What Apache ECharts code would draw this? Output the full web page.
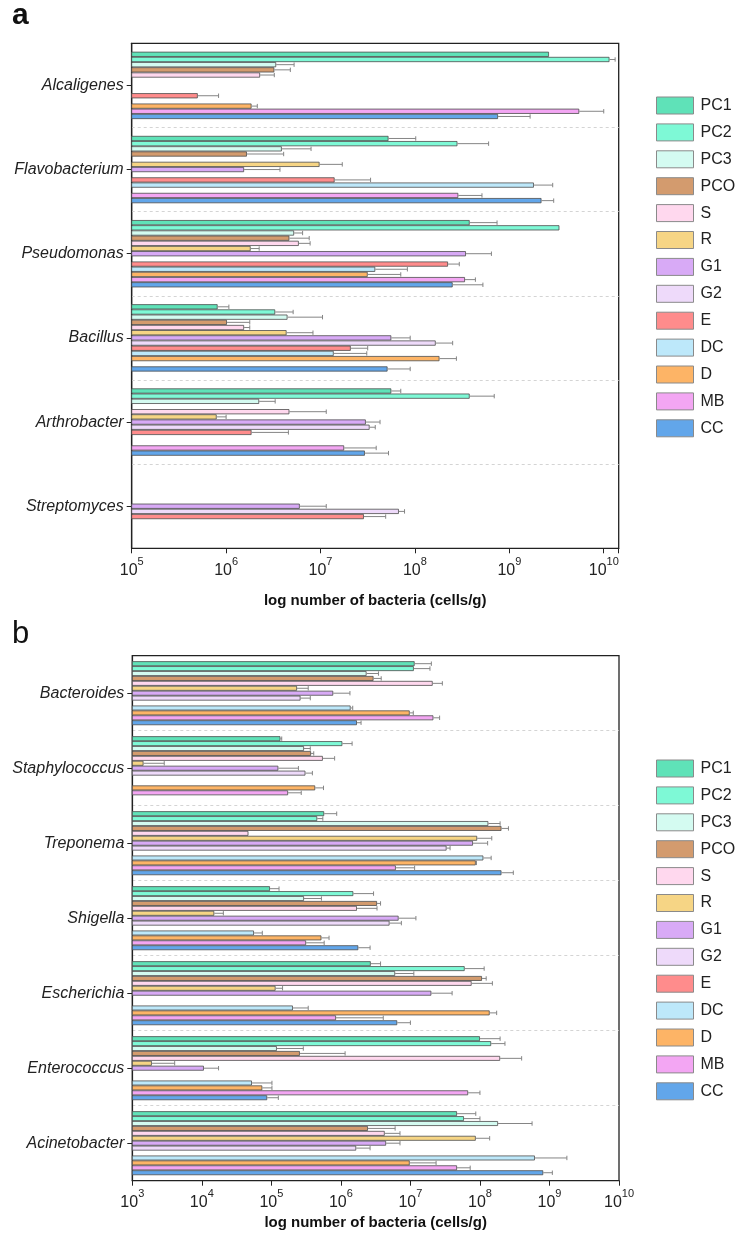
<!DOCTYPE html>
<html><head><meta charset="utf-8">
<script src="https://cdn.jsdelivr.net/npm/echarts@6/dist/echarts.min.js"></script>
<style>html,body{margin:0;padding:0;background:#fff}#c{width:738px;height:1240px}</style>
</head><body><div id="c"></div>
<script>
// ---- series (sample groups) ----
const seriesNames = ['PC1','PC2','PC3','PCO','S','R','G1','G2','E','DC','D','MB','CC'];
const seriesColors = ['#5fe2b8','#7ef9d6','#d4fbf1','#d39b6e','#ffd8ee','#f6d585','#d8aaf6','#eedafa','#ff8c8c','#bde8fa','#fdb466','#f3a6f3','#62a6ea'];

// ---- panel a ----
const catsA = ['Alcaligenes','Flavobacterium','Pseudomonas','Bacillus','Arthrobacter','Streptomyces'];
// mean values (cells/g), order = seriesNames, null = not shown
const alcaligenes      = [2.63e9, 1.15e10, 3.39e6, 3.24e6, 2.29e6, null, null, null, 5.01e5, null, 1.86e6, 5.50e9, 7.59e8];
const alcaligenesHi    = [null, 1.32e10, 5.25e6, 4.79e6, 3.24e6, null, null, null, 8.32e5, null, 2.14e6, 1.0e10, 1.66e9];
const flavobacterium   = [5.25e7, 2.82e8, 3.89e6, 1.66e6, null, 9.77e6, 1.55e6, null, 1.41e7, 1.82e9, null, 2.88e8, 2.19e9];
const flavobacteriumHi = [1.02e8, 6.03e8, 7.94e6, 4.07e6, null, 1.70e7, 3.72e6, null, 3.39e7, 2.88e9, null, 5.13e8, 2.95e9];
const pseudomonas      = [3.80e8, 3.39e9, 5.25e6, 4.68e6, 5.89e6, 1.82e6, 3.47e8, null, 2.24e8, 3.80e7, 3.16e7, 3.39e8, 2.51e8];
const pseudomonasHi    = [7.41e8, null, 6.46e6, 7.59e6, 7.76e6, 2.24e6, 6.46e8, null, 2.95e8, 8.32e7, 7.08e7, 4.37e8, 5.25e8];
const bacillus         = [8.13e5, 3.31e6, 4.47e6, 1.02e6, 1.55e6, 4.37e6, 5.62e7, 1.66e8, 2.09e7, 1.38e7, 1.82e8, null, 5.13e7];
const bacillusHi       = [1.07e6, 5.13e6, 1.05e7, 1.78e6, 1.78e6, 8.32e6, 8.91e7, 2.51e8, 3.16e7, 3.09e7, 2.75e8, null, 8.91e7];
const arthrobacter     = [5.62e7, 3.80e8, 2.24e6, null, 4.68e6, 7.94e5, 3.02e7, 3.31e7, 1.86e6, null, null, 1.78e7, 2.95e7];
const arthrobacterHi   = [7.08e7, 6.92e8, 3.31e6, null, 1.15e7, 1.0e6, 4.27e7, 3.80e7, 4.57e6, null, null, 3.89e7, 5.25e7];
const streptomyces     = [null, null, null, null, null, null, 6.03e6, 6.76e7, 2.88e7, null, null, null, null];
const streptomycesHi   = [null, null, null, null, null, null, 1.15e7, 7.76e7, 4.90e7, null, null, null, null];

// ---- panel b ----
const catsB = ['Bacteroides','Staphylococcus','Treponema','Shigella','Escherichia','Enterococcus','Acinetobacter'];
const bacteroides      = [1.15e7, 1.12e7, 2.34e6, 2.95e6, 2.09e7, 2.34e5, 7.76e5, 2.63e5, null, 1.38e6, 9.77e6, 2.14e7, 1.70e6];
const bacteroidesHi    = [2.0e7, 1.91e7, 3.47e6, 3.80e6, 2.88e7, 3.39e5, 1.35e6, 3.63e5, null, 1.48e6, 1.10e7, 2.63e7, 1.95e6];
const staphylococcus   = [1.35e5, 1.05e6, 2.95e5, 3.72e5, 5.50e5, 1.45e3, 1.26e5, 3.09e5, null, null, 4.27e5, 1.74e5, null];
const staphylococcusHi = [1.41e5, 1.45e6, 3.63e5, 4.07e5, 8.13e5, 2.88e3, 2.45e5, 3.89e5, null, null, 5.62e5, 2.69e5, null];
const treponema        = [5.75e5, 4.57e5, 1.32e8, 2.04e8, 4.68e4, 9.12e7, 7.94e7, 3.31e7, null, 1.12e8, 8.71e7, 6.17e6, 2.04e8];
const treponemaHi      = [8.71e5, 5.50e5, 1.95e8, 2.57e8, null, 1.48e8, 1.29e8, 3.72e7, null, 1.45e8, 8.91e7, 1.15e7, 3.02e8];
const shigella         = [9.55e4, 1.51e6, 2.95e5, 3.31e6, 1.70e6, 1.51e4, 6.76e6, 5.01e6, null, 5.62e4, 5.25e5, 3.16e5, 1.78e6];
const shigellaHi       = [1.29e5, 2.95e6, 5.25e5, 3.72e6, 3.31e6, 2.04e4, 1.20e7, 7.41e6, null, 7.41e4, 6.76e5, 5.75e5, 2.63e6];
const escherichia      = [2.69e6, 6.03e7, 6.03e6, 1.07e8, 7.59e7, 1.15e5, 2.0e7, null, null, 2.04e5, 1.38e8, 8.51e5, 6.46e6];
const escherichiaHi    = [3.72e6, 1.15e8, 1.12e7, 1.23e8, 1.51e8, 1.45e5, 3.98e7, null, null, 3.39e5, 1.74e8, 4.07e6, 1.0e7];
const enterococcus     = [1.0e8, 1.45e8, 1.20e5, 2.57e5, 1.95e8, 1.91e3, 1.07e4, null, null, 5.25e4, 7.41e4, 6.76e7, 8.71e4];
const enterococcusHi   = [1.95e8, 2.29e8, 2.88e5, 1.15e6, 3.98e8, 4.07e3, 1.74e4, null, null, 1.02e5, 1.02e5, 1.0e8, 1.26e5];
const acinetobacter    = [4.68e7, 5.89e7, 1.82e8, 2.45e6, 4.27e6, 8.71e7, 4.47e6, 1.66e6, null, 6.17e8, 9.77e6, 4.68e7, 8.13e8];
const acinetobacterHi  = [8.71e7, 1.0e8, 5.62e8, 6.03e6, 7.08e6, 1.38e8, 7.08e6, 2.63e6, null, 1.78e9, 2.34e7, 7.24e7, 1.10e9];

const axisTitle = 'log number of bacteria (cells/g)';

const meansA = [alcaligenes, flavobacterium, pseudomonas, bacillus, arthrobacter, streptomyces];
const hisA = [alcaligenesHi, flavobacteriumHi, pseudomonasHi, bacillusHi, arthrobacterHi, streptomycesHi];
const meansB = [bacteroides, staphylococcus, treponema, shigella, escherichia, enterococcus, acinetobacter];
const hisB = [bacteroidesHi, staphylococcusHi, treponemaHi, shigellaHi, escherichiaHi, enterococcusHi, acinetobacterHi];

const FONT = "'Liberation Sans', Arial, sans-serif";

function buildPanel(means, his, idx, gap) {
  const bars = seriesNames.map((name, si) => ({
    name, type: 'bar', xAxisIndex: idx, yAxisIndex: idx,
    barGap: '0%', barCategoryGap: (gap * 100) + '%',
    clip: true, silent: true,
    itemStyle: { color: seriesColors[si], borderColor: '#4d4d4d', borderWidth: 0.8 },
    data: means.map(row => row[si])
  }));
  const errData = [];
  means.forEach((row, ci) => row.forEach((v, si) => {
    const h = his[ci][si];
    if (v != null && h != null && h > v) errData.push([ci, si, v, h]);
  }));
  const err = {
    type: 'custom', xAxisIndex: idx, yAxisIndex: idx, silent: true, z: 5,
    encode: { x: [2, 3], y: 0 },
    data: errData,
    renderItem(params, api) {
      const ci = api.value(0), si = api.value(1), v = api.value(2), h = api.value(3);
      const a = api.coord([v, ci]);
      const b = api.coord([h, ci]);
      const o = api.coord([v, ci === 0 ? 1 : ci - 1]);
      const band = Math.abs(o[1] - a[1]);
      const bw = band * (1 - gap) / seriesNames.length;
      const y = a[1] - band * (1 - gap) / 2 + (si + 0.5) * bw;
      const cap = 2.2;
      const style = { stroke: '#858585', lineWidth: 1 };
      return { type: 'group', children: [
        { type: 'line', shape: { x1: a[0], y1: y, x2: b[0], y2: y }, style },
        { type: 'line', shape: { x1: b[0], y1: y - cap, x2: b[0], y2: y + cap }, style }
      ]};
    }
  };
  return bars.concat([err]);
}

function xAxisCfg(idx, min, max, nameGap) {
  return {
    type: 'log', logBase: 10, gridIndex: idx, min, max, position: 'bottom',
    splitNumber: 6,
    axisLine: { show: true, lineStyle: { color: '#222', width: 1.2 } },
    axisTick: { show: true, inside: false, length: 5, lineStyle: { color: '#222' } },
    splitLine: { show: false }, minorTick: { show: false },
    axisLabel: {
      margin: 8, showMaxLabel: true, color: '#222',
      formatter: v => {
        const e = Math.log10(v);
        if (Math.abs(e - Math.round(e)) > 0.01) return '';
        return '{b|10}{s|' + Math.round(e) + '}';
      },
      rich: {
        b: { fontSize: 16, fontFamily: FONT, color: '#222', lineHeight: 22, verticalAlign: 'bottom' },
        s: { fontSize: 11, fontFamily: FONT, color: '#222', lineHeight: 22, verticalAlign: 'top' }
      }
    },
    name: axisTitle, nameLocation: 'middle', nameGap,
    nameTextStyle: { fontSize: 15, fontWeight: 'bold', fontFamily: FONT, color: '#111' }
  };
}
function yAxisCfg(idx, cats) {
  return {
    type: 'category', gridIndex: idx, data: cats, inverse: true,
    axisLine: { show: true, lineStyle: { color: '#222', width: 1.2 } },
    axisTick: { show: true, alignWithLabel: true, length: 5, lineStyle: { color: '#222' } },
    axisLabel: { margin: 8, fontSize: 16, fontStyle: 'italic', fontFamily: FONT, color: '#222' },
    splitLine: { show: true, showMinLine: false, showMaxLine: false, lineStyle: { type: [3, 3], color: '#d4d4d4', width: 1 } }
  };
}
function legendCfg(top) {
  return {
    orient: 'vertical', left: 656, top, padding: 0, data: seriesNames, icon: 'rect',
    itemWidth: 37, itemHeight: 17, itemGap: 8.9, selectedMode: false,
    itemStyle: { borderColor: '#8a8a8a', borderWidth: 1 },
    textStyle: { fontSize: 16, fontFamily: FONT, color: '#222', lineHeight: 17, padding: [0, 0, 0, 2] }
  };
}

const option = {
  animation: false,
  backgroundColor: '#fff',
  textStyle: { fontFamily: FONT },
  grid: [
    { left: 131.7, top: 43.3, width: 487, height: 505, show: true, borderColor: '#222', borderWidth: 1.3, backgroundColor: 'transparent' },
    { left: 132.3, top: 655.7, width: 486.7, height: 525, show: true, borderColor: '#222', borderWidth: 1.3, backgroundColor: 'transparent' }
  ],
  xAxis: [xAxisCfg(0, 1e5, 1.44e10, 45), xAxisCfg(1, 1e3, 1e10, 35)],
  yAxis: [yAxisCfg(0, catsA), yAxisCfg(1, catsB)],
  legend: [legendCfg(96.5), legendCfg(759.5)],
  graphic: [
    { type: 'text', left: 12, top: 1, style: { text: 'a', fontSize: 30, fontWeight: 'bold', fontFamily: FONT, fill: '#111' } },
    { type: 'text', left: 12, top: 619, style: { text: 'b', fontSize: 31, fontFamily: FONT, fill: '#111' } }
  ],
  series: buildPanel(meansA, hisA, 0, 0.20).concat(buildPanel(meansB, hisB, 1, 0.147))
};

const chart = echarts.init(document.getElementById('c'), null, { renderer: 'canvas' });
chart.setOption(option);
</script>
</body></html>
